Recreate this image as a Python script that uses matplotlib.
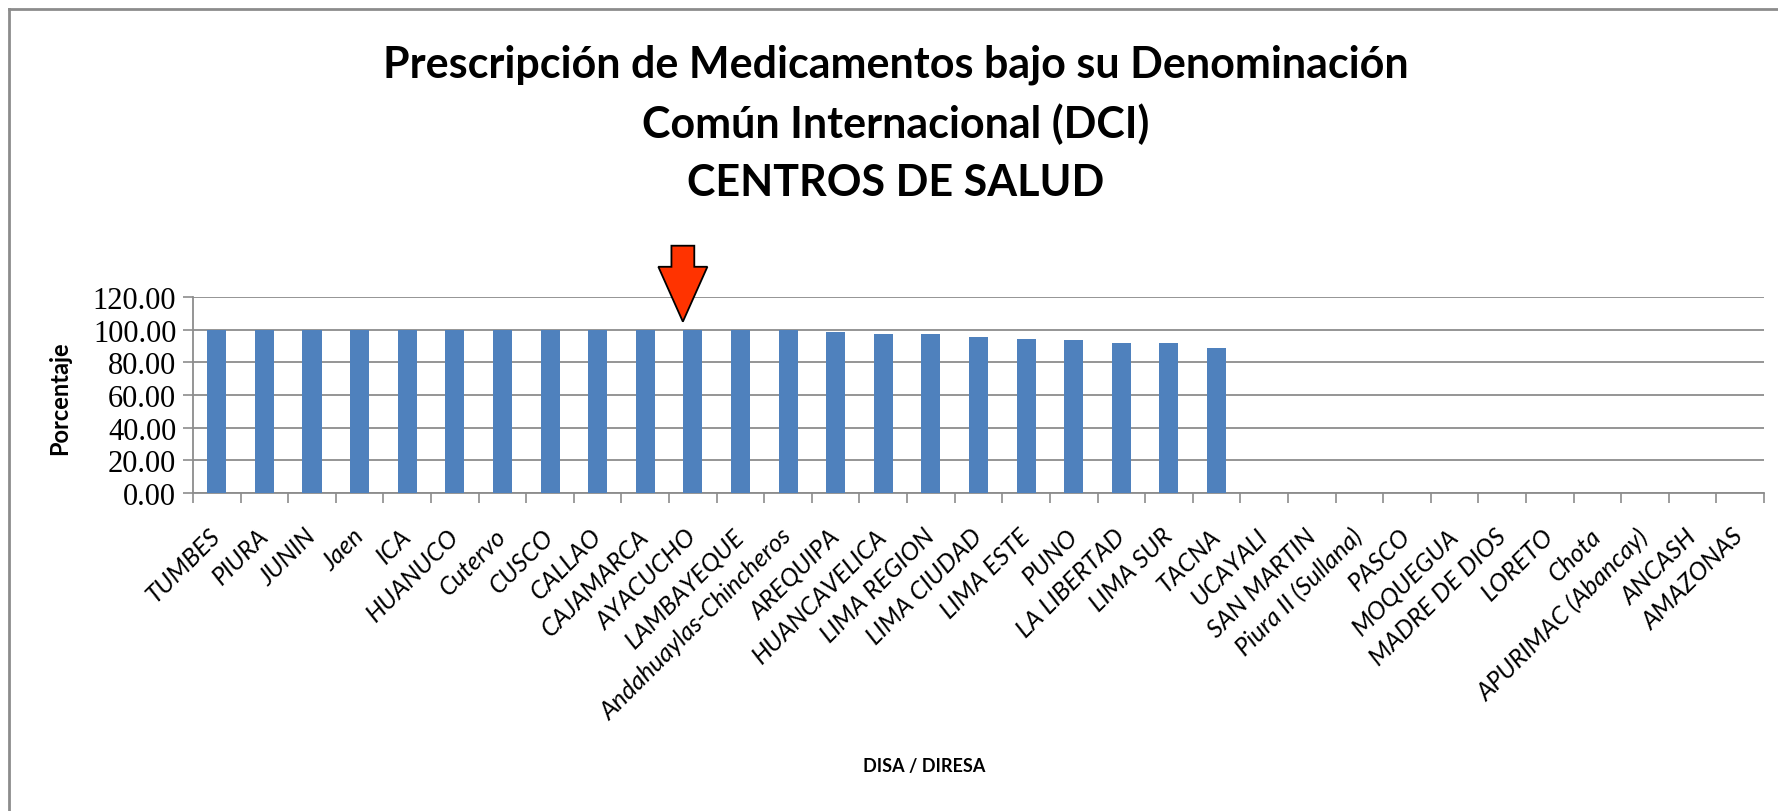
import matplotlib
matplotlib.use("Agg")
import matplotlib.pyplot as plt
from matplotlib.lines import Line2D
from matplotlib.patches import FancyArrow
import numpy as np

categories = ["TUMBES", "PIURA", "JUNIN", "Jaen", "ICA", "HUANUCO", "Cutervo", "CUSCO",
              "CALLAO", "CAJAMARCA", "AYACUCHO", "LAMBAYEQUE", "Andahuaylas-Chincheros",
              "AREQUIPA", "HUANCAVELICA", "LIMA REGION", "LIMA CIUDAD", "LIMA ESTE", "PUNO",
              "LA LIBERTAD", "LIMA SUR", "TACNA", "UCAYALI", "SAN MARTIN", "Piura II (Sullana)",
              "PASCO", "MOQUEGUA", "MADRE DE DIOS", "LORETO", "Chota", "APURIMAC (Abancay)",
              "ANCASH", "AMAZONAS"]
values = [100, 100, 100, 100, 100, 100, 100, 100, 100, 100, 100, 100, 100,
          98.4, 97.6, 97.6, 95.3, 94.5, 93.5, 91.6, 91.6, 88.6,
          0, 0, 0, 0, 0, 0, 0, 0, 0, 0, 0]
yticks = [0, 20, 40, 60, 80, 100, 120]
highlight = "AYACUCHO"

W, H = 1778, 812
fig = plt.figure(figsize=(W / 100, H / 100), dpi=100)
fig.patch.set_facecolor("white")

ax_l, ax_r, ax_t, ax_b = 193, 1764, 298, 494
ax = fig.add_axes([ax_l / W, 1 - ax_b / H, (ax_r - ax_l) / W, (ax_b - ax_t) / H])

x = np.arange(len(categories))
ax.bar(x, values, width=0.4, color="#4F81BD", zorder=3)

ax.set_xlim(-0.5, len(categories) - 0.5)
ax.set_ylim(0, 120)
ax.set_yticks(yticks)
ax.set_yticklabels([f"{v:.2f}" for v in yticks], family="Liberation Serif", fontsize=22)
ax.yaxis.grid(True, color="#8C8C8C", linewidth=1.3, zorder=0)

ax.set_xticks(np.arange(-0.5, len(categories), 1.0))
ax.set_xticklabels([])
ax.set_xticks(x, minor=True)
ax.set_xticklabels(categories, minor=True, rotation=45, ha="right", va="center",
                   rotation_mode="anchor", family="Lato", style="italic", fontsize=18)
ax.tick_params(axis="x", which="minor", length=0, pad=28)
ax.tick_params(axis="x", which="major", length=7, color="#8C8C8C", width=1.2)
ax.tick_params(axis="y", length=7, color="#8C8C8C", width=1.2, pad=5)

for s in ["top", "right"]:
    ax.spines[s].set_visible(False)
ax.spines["left"].set_color("#8C8C8C")
ax.spines["bottom"].set_color("#8C8C8C")
ax.spines["left"].set_linewidth(1.3)
ax.spines["bottom"].set_linewidth(1.3)

# red arrow pointing to highlighted category
hi = categories.index(highlight)
arr = FancyArrow(hi - 0.21, 151.4, 0, -46.5, width=0.48, head_width=1.03,
                 head_length=33.6, length_includes_head=True,
                 facecolor="#FF3300", edgecolor="black", linewidth=1.3,
                 clip_on=False, zorder=5)
ax.add_patch(arr)

title_lines = ["Prescripción de Medicamentos bajo su Denominación",
               "Común Internacional (DCI)",
               "CENTROS DE SALUD"]
for i, line in enumerate(title_lines):
    fig.text(896 / W, 1 - (65 + 59 * i) / H, line, ha="center", va="center",
             family="Lato", weight="bold", fontsize=31)

fig.text(60 / W, 1 - 398 / H, "Porcentaje", rotation=90, ha="center", va="center",
         family="Lato", weight="bold", fontsize=17)
fig.text(924 / W, 1 - 767 / H, "DISA / DIRESA", ha="center", va="center",
         family="Lato", weight="bold", fontsize=13)

# outer chart frame (left and top visible)
fig.add_artist(Line2D([9 / W, 9 / W], [0, 1 - 10 / H], transform=fig.transFigure,
                      color="#8C8C8C", linewidth=2))
fig.add_artist(Line2D([9 / W, 1], [1 - 10 / H, 1 - 10 / H], transform=fig.transFigure,
                      color="#8C8C8C", linewidth=2))

fig.savefig("out.png", dpi=100)
